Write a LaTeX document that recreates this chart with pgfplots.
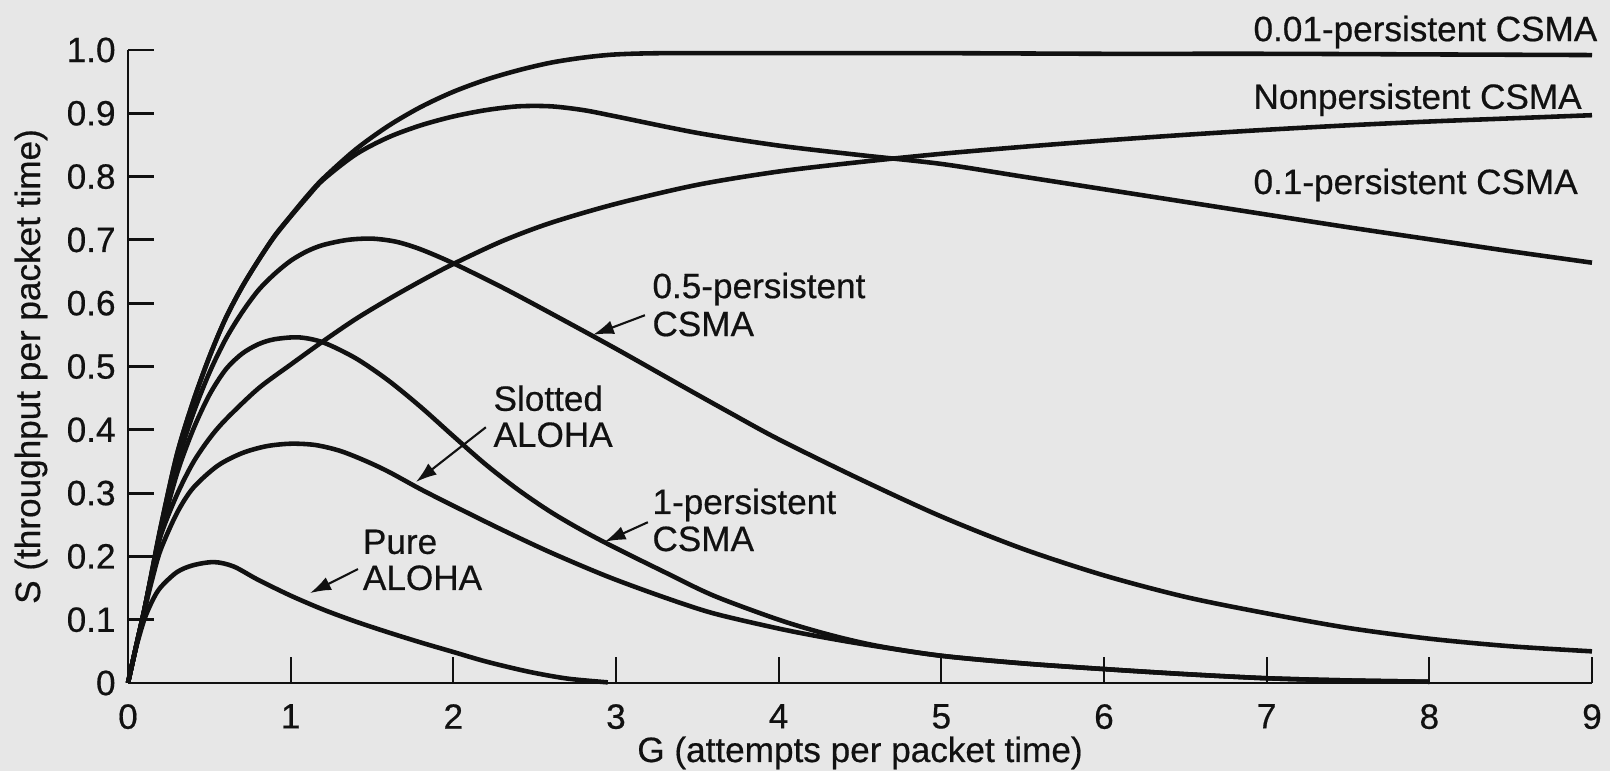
\documentclass[border=0pt]{standalone}
\usepackage{fontspec}
\setmainfont{Liberation Sans}[UprightFeatures={FakeBold=0.5}]
\usepackage{pgfplots}
\pgfplotsset{compat=1.18}
\usetikzlibrary{arrows.meta}
\definecolor{bg}{HTML}{E7E7E7}
\definecolor{ink}{HTML}{111111}
\begin{document}
\begin{tikzpicture}
\fill[bg] (0,0) rectangle (161mm,77.1mm);
\useasboundingbox (0,0) rectangle (161mm,77.1mm);
\begin{axis}[
  at={(12.8mm,8.8mm)}, anchor=south west,
  width=146.4mm, height=63.3mm, scale only axis,
  xmin=0, xmax=9, ymin=0, ymax=1,
  axis lines=left, axis line style={-, line width=0.8pt, ink},
  clip=false,
  xtick={0,1,2,3,4,5,6,7,8,9},
  xticklabels={0,1,2,3,4,5,6,7,8,9},
  ytick={0,0.1,0.2,0.3,0.4,0.5,0.6,0.7,0.8,0.9,1},
  yticklabels={0,0.1,0.2,0.3,0.4,0.5,0.6,0.7,0.8,0.9,1.0},
  tick align=inside, major tick length=2.6mm,
  xtick style={line width=0.5pt, ink},
  ytick style={line width=0.8pt, ink},
  ticklabel style={font=\fontsize{10}{12}\selectfont, text=ink},
  xticklabel style={yshift=-2.5pt},
  xlabel={G (attempts per packet time)},
  ylabel={S (throughput per packet time)},
  every axis x label/.style={at={(axis description cs:0.5,0)}, anchor=base, yshift=-7.9mm, font=\fontsize{10}{12}\selectfont, text=ink},
  every axis y label/.style={at={(axis description cs:-0.0601,0.5)}, rotate=90, anchor=base, font=\fontsize{10}{12}\selectfont, text=ink},
]
% 0.01-persistent CSMA
\addplot[ink, line width=1.3pt, smooth] coordinates {
(0,0) (0.05,0.058) (0.1,0.115) (0.15,0.18) (0.2,0.245) (0.3,0.36) (0.4,0.444) (0.5,0.515) (0.6,0.576) (0.7,0.625) (0.8,0.667) (0.9,0.706) (1.0,0.738) (1.1,0.769) (1.2,0.797) (1.4,0.843) (1.6,0.880) (1.8,0.910) (2.0,0.934) (2.2,0.953) (2.4,0.968) (2.6,0.980) (2.8,0.988) (3.0,0.993) (3.3,0.995) (4,0.995) (5,0.995) (6,0.994) (7,0.994) (8,0.993) (9,0.992)};
% 0.1-persistent CSMA
\addplot[ink, line width=1.3pt, smooth] coordinates {
(0,0) (0.05,0.058) (0.1,0.115) (0.15,0.18) (0.2,0.245) (0.3,0.36) (0.4,0.444) (0.5,0.515) (0.6,0.576) (0.7,0.625) (0.8,0.667) (0.9,0.705) (1.0,0.737) (1.1,0.767) (1.2,0.795) (1.4,0.835) (1.6,0.862) (1.8,0.881) (2.0,0.895) (2.2,0.905) (2.4,0.911) (2.6,0.911) (2.8,0.905) (3.0,0.895) (3.5,0.869) (4.0,0.849) (4.5,0.834) (5.0,0.82) (5.5,0.80) (6.0,0.78) (6.5,0.76) (7.0,0.74) (7.5,0.72) (8.0,0.701) (8.5,0.682) (9.0,0.664)};
% Nonpersistent CSMA
\addplot[ink, line width=1.3pt, smooth] coordinates {
(0,0) (0.05,0.058) (0.1,0.115) (0.15,0.175) (0.2,0.232) (0.3,0.297) (0.4,0.348) (0.5,0.386) (0.6,0.416) (0.8,0.465) (1.0,0.503) (1.2,0.54) (1.4,0.575) (1.6,0.606) (1.8,0.635) (2.0,0.662) (2.3,0.698) (2.6,0.727) (3.0,0.757) (3.5,0.787) (4.0,0.808) (4.5,0.823) (5.0,0.836) (5.5,0.847) (6.0,0.857) (6.5,0.866) (7.0,0.874) (7.5,0.881) (8.0,0.887) (8.5,0.892) (9.0,0.897)};
% 0.5-persistent CSMA
\addplot[ink, line width=1.3pt, smooth] coordinates {
(0,0) (0.05,0.058) (0.1,0.115) (0.15,0.178) (0.2,0.24) (0.3,0.345) (0.4,0.425) (0.5,0.49) (0.6,0.543) (0.7,0.585) (0.8,0.62) (0.9,0.646) (1.0,0.667) (1.1,0.682) (1.2,0.692) (1.35,0.70) (1.5,0.702) (1.65,0.697) (1.8,0.685) (2.0,0.663) (2.3,0.625) (2.6,0.584) (3.0,0.528) (3.4,0.47) (3.7,0.427) (4.0,0.385) (4.5,0.322) (5.0,0.263) (5.5,0.212) (6.0,0.17) (6.5,0.136) (7.0,0.11) (7.5,0.087) (8.0,0.07) (8.5,0.058) (9.0,0.05)};
% 1-persistent CSMA
\addplot[ink, line width=1.3pt, smooth] coordinates {
(0,0) (0.05,0.058) (0.1,0.115) (0.15,0.175) (0.2,0.235) (0.3,0.33) (0.4,0.40) (0.5,0.455) (0.6,0.495) (0.7,0.52) (0.8,0.535) (0.9,0.543) (1.05,0.546) (1.2,0.538) (1.4,0.513) (1.6,0.478) (1.8,0.436) (2.0,0.39) (2.2,0.345) (2.4,0.305) (2.6,0.27) (2.8,0.24) (3.0,0.213) (3.3,0.175) (3.6,0.138) (4.0,0.10) (4.3,0.077) (4.6,0.059) (5.0,0.043) (5.5,0.031) (6.0,0.022) (6.5,0.014) (7.0,0.0075) (7.5,0.004) (8.0,0.002)};
% Slotted ALOHA
\addplot[ink, line width=1.3pt, smooth] coordinates {
(0,0) (0.05,0.058) (0.1,0.113) (0.15,0.165) (0.2,0.21) (0.3,0.268) (0.4,0.308) (0.55,0.343) (0.7,0.363) (0.85,0.374) (1.0,0.378) (1.15,0.376) (1.3,0.367) (1.45,0.352) (1.6,0.334) (1.8,0.306) (2.0,0.28) (2.3,0.242) (2.6,0.206) (2.95,0.168) (3.3,0.135) (3.6,0.11) (4.0,0.086) (4.3,0.071) (4.6,0.058) (5.0,0.043) (5.5,0.031) (6.0,0.022) (6.5,0.014) (7.0,0.0075) (7.5,0.004) (8.0,0.002)};
% Pure ALOHA
\addplot[ink, line width=1.3pt, smooth] coordinates {
(0,0) (0.05,0.056) (0.1,0.1) (0.15,0.13) (0.2,0.151) (0.3,0.175) (0.4,0.186) (0.53,0.191) (0.65,0.184) (0.8,0.163) (1.0,0.138) (1.2,0.116) (1.4,0.097) (1.6,0.08) (1.8,0.064) (2.0,0.049) (2.2,0.034) (2.46,0.018) (2.7,0.007) (2.95,0.001)};
% labels
\tikzset{lab/.style={anchor=base west, font=\fontsize{10}{12}\selectfont, text=ink, inner sep=0pt}}
\node[lab] at (axis cs:6.915,1.014) {0.01-persistent CSMA};
\node[lab] at (axis cs:6.915,0.907) {Nonpersistent CSMA};
\node[lab] at (axis cs:6.915,0.7725) {0.1-persistent CSMA};
\node[lab] at (axis cs:3.22,0.608) {0.5-persistent};
\node[lab] at (axis cs:3.22,0.548) {CSMA};
\node[lab] at (axis cs:3.22,0.267) {1-persistent};
\node[lab] at (axis cs:3.22,0.2085) {CSMA};
\node[lab] at (axis cs:2.243,0.43) {Slotted};
\node[lab] at (axis cs:2.243,0.373) {ALOHA};
\node[lab] at (axis cs:1.44,0.204) {Pure};
\node[lab] at (axis cs:1.44,0.147) {ALOHA};
\tikzset{arr/.style={ink, line width=0.6pt, -{Latex[length=2.1mm,width=1.4mm]}}}
\draw[arr] (axis cs:3.178,0.581) -- (axis cs:2.858,0.55);
\draw[arr] (axis cs:3.196,0.254) -- (axis cs:2.93,0.223);
\draw[arr] (axis cs:2.20,0.404) -- (axis cs:1.77,0.3175);
\draw[arr] (axis cs:1.414,0.180) -- (axis cs:1.119,0.142);
\end{axis}
\end{tikzpicture}
\end{document}
